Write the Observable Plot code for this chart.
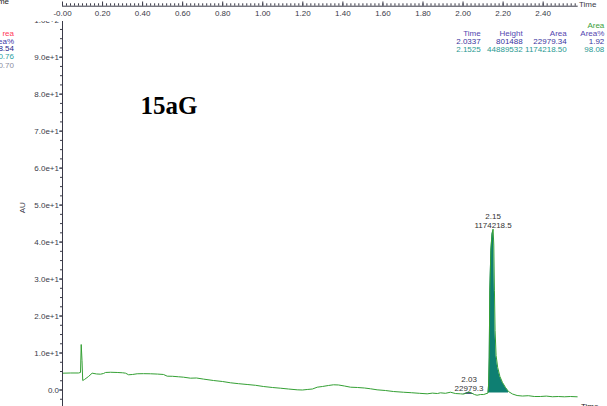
<!DOCTYPE html>
<html><head><meta charset="utf-8">
<script src="https://cdn.jsdelivr.net/npm/d3@7"></script>
<script src="https://cdn.jsdelivr.net/npm/@observablehq/plot@0.6"></script>
<style>
body{margin:0;background:#fff;}
#wrap{position:relative;width:607px;height:406px;overflow:hidden;background:#fff;font-family:"Liberation Sans",Arial,sans-serif;}
.t{position:absolute;font-size:8px;line-height:9px;white-space:nowrap;}
</style>
</head><body>
<div id="wrap">
  <div id="main" style="position:absolute;left:0;top:0"></div>
  <div id="strip" style="position:absolute;left:0;top:0;background:#fff"></div>
</div>
<script>
// ---- chromatogram trace (Time, AU) ----
const time = [0,0.04,0.08,0.0899,0.0934,0.0974,0.101,0.11,0.13,0.148,0.17,0.19,0.205,0.215,0.24,0.273,0.30,0.315,0.33,0.35,0.373,0.404,0.439,0.474,0.504,0.523,0.549,0.579,0.604,0.639,0.669,0.704,0.754,0.799,0.839,0.879,0.922,0.964,1.003,1.048,1.088,1.128,1.172,1.198,1.222,1.248,1.272,1.298,1.328,1.353,1.378,1.408,1.438,1.473,1.508,1.538,1.571,1.613,1.653,1.702,1.742,1.782,1.821,1.847,1.872,1.887,1.912,1.937,1.962,1.987,2.002,2.017,2.030,2.042,2.057,2.070,2.087,2.103,2.1248,2.128,2.1307,2.1337,2.139,2.1445,2.150,2.1535,2.1567,2.160,2.165,2.173,2.184,2.197,2.212,2.227,2.247,2.270,2.297,2.326,2.356,2.386,2.416,2.446,2.476,2.506,2.536,2.570];
const au   = [4.55,4.6,4.6,4.74,12.3,8.0,2.57,2.85,3.66,4.55,4.34,4.28,4.47,4.74,4.8,4.74,4.66,4.55,4.12,4.2,4.39,4.42,4.39,4.31,4.2,3.74,3.71,3.58,3.47,3.2,3.25,2.95,2.57,2.3,1.95,1.71,1.49,1.27,0.95,0.68,0.49,0.27,0.05,0.0,0.14,0.27,0.76,0.95,1.22,1.41,1.36,1.08,0.76,0.68,0.54,0.33,0.05,-0.14,-0.41,-0.6,-0.73,-0.89,-1.03,-0.84,-0.95,-0.76,-0.89,-0.6,-0.95,-1.03,-1.11,-0.81,-0.57,-0.81,-1.22,-1.41,-1.22,-1.22,-0.81,1.76,8.8,27.0,37.8,42.1,43.5,39.2,27.0,16.1,9.35,6.1,3.66,2.03,0.68,-0.41,-1.08,-1.49,-1.63,-1.54,-1.76,-1.76,-1.65,-1.82,-1.76,-1.84,-1.76,-1.84];

// ---- integrated peaks ----
const peakTimes  = [2.03, 2.15];
const peakHeights = [-0.57, 43.5];
const peakLabels = ["2.03\n22979.3", "2.15\n1174218.5"];
const peakStart = [2.002, 2.1248];
const peakEnd   = [2.057, 2.227];
const peakBase  = [-1.15, -0.8];
const peakFills = ["#1b1f6b", "#0e7f72"];

// ---- axes ----
const yTickValues = [0,10,20,30,40,50,60,70,80,90,100];
const yTickLabels = ["0.0","1.0e+1","2.0e+1","3.0e+1","4.0e+1","5.0e+1","6.0e+1","7.0e+1","8.0e+1","9.0e+1","1.0e+2"];
const yMinorValues = d3.range(-2.5, 100.1, 2.5);
const xTickValues = [0,0.2,0.4,0.6,0.8,1.0,1.2,1.4,1.6,1.8,2.0,2.2,2.4];
const xTickLabels = ["-0.00","0.20","0.40","0.60","0.80","1.00","1.20","1.40","1.60","1.80","2.00","2.20","2.40"];
const xMinorValues = d3.range(0, 2.571, 0.02);

// ---- peak tables (cropped) ----
const tableCols = ["Time","Height","Area","Area%"];
const tableRow1 = ["2.0337","801488","22979.34","1.92"];
const tableRow2 = ["2.1525","44889532","1174218.50","98.08"];
const leftRemnant = ["rea","ea%","8.54","0.76","0.70"];

const trace = time.map((t,i)=>({t, au: au[i]}));
const yLab = new Map(yTickValues.map((v,i)=>[v,yTickLabels[i]]));
const xLab = new Map(xTickValues.map((v,i)=>[v,xTickLabels[i]]));
const peaks = peakTimes.map((t,i)=>({t, au: peakHeights[i], label: peakLabels[i]}));

const xDomain = [0, 2.57];
const axisColor = "#3a3a48";

const fillMarks = peakStart.map((s,i)=>
  Plot.areaY(trace.filter(d=>d.t>=s && d.t<=peakEnd[i]), {x:"t", y1: ()=>peakBase[i], y2:"au", fill: peakFills[i], curve:"linear"})
);

const main = Plot.plot({
  width: 607, height: 406,
  marginLeft: 62, marginRight: 30.3, marginTop: 19.7, marginBottom: 0,
  x: {domain: xDomain, axis: null},
  y: {domain: [-4.46, 100], axis: null},
  style: {fontFamily: "'Liberation Sans', Arial, sans-serif", fontSize: "8px", color: axisColor, background: "white", overflow: "visible"},
  marks: [
    ...fillMarks,
    Plot.line(trace, {x:"t", y:"au", stroke:"#34a034", strokeWidth:1}),
    Plot.ruleX([0], {stroke: axisColor}),
    Plot.axisY(yMinorValues, {anchor:"left", tickSize:2, tickFormat: ()=>"", stroke: axisColor}),
    Plot.axisY(yTickValues, {anchor:"left", tickSize:3, tickPadding:0.5, tickFormat: d=>yLab.get(d), stroke: axisColor, fill: axisColor}),
    Plot.text(["AU"], {frameAnchor:"left", rotate:-90, dx:-40, fontSize:8, fill: axisColor}),
    Plot.text(peaks, {x:"t", y:"au", text:"label", lineAnchor:"bottom", dy:-1.5, lineHeight:1.07, fontSize:8, fill:"#333"}),
    Plot.text(["15aG"], {frameAnchor:"top-left", dx:78, dy:93.3, textAnchor:"start", lineAnchor:"bottom", fontFamily:"'Liberation Serif', 'Times New Roman', serif", fontWeight:"bold", fontSize:25, fill:"#000"})
  ]
});
document.getElementById("main").appendChild(main);

const strip = Plot.plot({
  width: 607, height: 21,
  marginLeft: 62, marginRight: 30.3, marginTop: 0, marginBottom: 15.3,
  x: {domain: xDomain, axis: null},
  style: {fontFamily: "'Liberation Sans', Arial, sans-serif", fontSize: "8px", color: axisColor, background: "white", overflow: "visible"},
  marks: [
    Plot.frame({anchor:"bottom", stroke: axisColor}),
    Plot.tickX(xMinorValues, {x: d=>d, insetTop: 3.3, stroke: axisColor}),
    Plot.tickX(xTickValues, {x: d=>d, insetTop: 1.5, stroke: axisColor}),
    Plot.axisX(xTickValues, {anchor:"bottom", tickSize:0, tickPadding:4, tickFormat: d=>xLab.get(d), fill: axisColor})
  ]
});
document.getElementById("strip").appendChild(strip);

// overlay texts (cropped tables, axis title)
const wrap = document.getElementById("wrap");
function addText(txt, opts){
  const d = document.createElement("div");
  d.className = "t";
  d.textContent = txt;
  Object.assign(d.style, opts);
  wrap.appendChild(d);
}
addText("Time", {left:"579px", top:"-0.5px", color: axisColor});
addText("Time", {right:(607-9)+"px", top:"-3px", color:"#222"});
const leftColors = ["#ff3a5a","#3a36a8","#24248a","#2aa0a0","#8c8ca0"];
const leftY = [28.5, 36.5, 44, 52.3, 60.5];
leftRemnant.forEach((s,i)=>addText(s, {right:(607-14)+"px", top: leftY[i]+"px", color: leftColors[i]}));
const colRight = [480.7, 522.7, 566.7, 604.3];
addText("Area", {right:(607-604.3)+"px", top:"20.5px", color:"#3aa03a"});
tableCols.forEach((s,i)=>addText(s, {right:(607-colRight[i])+"px", top:"28.8px", color:"#5346b0"}));
tableRow1.forEach((s,i)=>addText(s, {right:(607-colRight[i])+"px", top:"37.2px", color:"#3a34a0"}));
tableRow2.forEach((s,i)=>addText(s, {right:(607-colRight[i])+"px", top:"44.8px", color:"#2a9a92"}));
addText("Time", {left:"581px", top:"401.5px", color:"#222"});
</script>
</body></html>
